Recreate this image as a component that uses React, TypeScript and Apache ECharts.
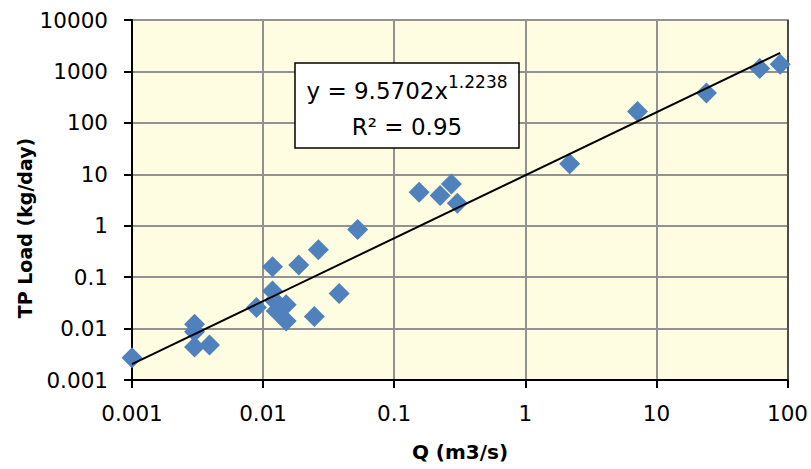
import React, { useEffect, useRef } from "react";
import * as echarts from "echarts";

const qValues = [0.001, 0.003, 0.003, 0.003, 0.0039, 0.0089, 0.0118, 0.0118, 0.0122, 0.0126, 0.015, 0.015, 0.0187, 0.0246, 0.0264, 0.038, 0.0526, 0.155, 0.224, 0.273, 0.303, 2.18, 7.18, 24.1, 61.4, 88];
const loadValues = [0.0027, 0.0122, 0.0087, 0.0044, 0.0048, 0.0256, 0.16, 0.054, 0.035, 0.022, 0.029, 0.0141, 0.172, 0.0172, 0.342, 0.048, 0.84, 4.48, 3.86, 6.5, 2.73, 16.0, 167, 381, 1138, 1380];
const xTickLabels = ["0.001", "0.01", "0.1", "1", "10", "100"];
const yTickLabels = ["0.001", "0.01", "0.1", "1", "10", "100", "1000", "10000"];
const fitCoef = 9.5702;
const fitExp = 1.2238;
const fitR2 = "0.95";
const trendRange = [0.001, 88];

const FONT = "DejaVu Sans";

export default function App() {
  const ref = useRef<HTMLDivElement>(null);
  useEffect(() => {
    document.body.style.margin = "0";
    const chart = echarts.init(ref.current!, undefined, { renderer: "svg" });
    const pts = qValues.map((q, i) => [q, loadValues[i]]);
    const trend = trendRange.map((q) => [q, fitCoef * Math.pow(q, fitExp)]);
    const lab = (arr: string[], min: number) => (v: number) => {
      const k = Math.round(Math.log10(v)) - Math.round(Math.log10(min));
      return arr[k] ?? "";
    };
    chart.setOption({
      animation: false,
      grid: {
        left: 132,
        right: 22,
        top: 20,
        bottom: 89,
        show: true,
        backgroundColor: "#FEFCE1",
        borderWidth: 0,
      },
      xAxis: {
        type: "log",
        logBase: 10,
        min: 0.001,
        max: 100,
        axisLine: { show: true, lineStyle: { color: "#000", width: 2 } },
        axisTick: { show: true, length: 8, lineStyle: { color: "#000", width: 2 } },
        splitLine: { show: true, lineStyle: { color: "#929292", width: 2 } },
        axisLabel: {
          formatter: lab(xTickLabels, 0.001),
          fontFamily: FONT,
          fontSize: 21.5,
          color: "#000",
          margin: 22,
        },
      },
      yAxis: [
        {
          type: "log",
          logBase: 10,
          min: 0.001,
          max: 10000,
          axisLine: { show: true, onZero: false, lineStyle: { color: "#000", width: 2 } },
          axisTick: { show: true, length: 8, lineStyle: { color: "#000", width: 2 } },
          splitLine: { show: true, lineStyle: { color: "#929292", width: 2 } },
          axisLabel: {
            formatter: lab(yTickLabels, 0.001),
            fontFamily: FONT,
            fontSize: 21.5,
            color: "#000",
            margin: 24,
          },
        },
        {
          type: "log",
          logBase: 10,
          min: 0.001,
          max: 10000,
          position: "right",
          axisLine: { show: true, lineStyle: { color: "#333", width: 1.5 } },
          axisTick: { show: false },
          axisLabel: { show: false },
          splitLine: { show: false },
        },
      ],
      series: [
        {
          type: "scatter",
          data: pts,
          symbol: "diamond",
          symbolSize: 21,
          clip: false,
          itemStyle: { color: "#4F81BD", opacity: 1 },
          z: 3,
        },
        {
          type: "line",
          data: trend,
          showSymbol: false,
          symbol: "none",
          lineStyle: { color: "#000", width: 2 },
          z: 4,
        },
      ],
      graphic: [
        {
          type: "text",
          x: 25,
          y: 228,
          rotation: Math.PI / 2,
          style: {
            text: "TP Load (kg/day)",
            fontFamily: FONT,
            fontWeight: "bold",
            fontSize: 19,
            fill: "#000",
            align: "center",
            verticalAlign: "middle",
          },
        },
        {
          type: "text",
          x: 460,
          y: 452,
          style: {
            text: "Q (m3/s)",
            fontFamily: FONT,
            fontWeight: "bold",
            fontSize: 20,
            fill: "#000",
            align: "center",
            verticalAlign: "middle",
          },
        },
        {
          type: "rect",
          z: 100,
          shape: { x: 295, y: 63, width: 224, height: 85 },
          style: { fill: "#fff", stroke: "#000", lineWidth: 1.5 },
        },
        {
          type: "text",
          z: 101,
          x: 407,
          y: 88,
          style: {
            text: "{m|y = " + fitCoef.toFixed(4) + "x}{s|" + fitExp.toFixed(4) + "}",
            rich: {
              m: { fontFamily: FONT, fontSize: 23, fill: "#000", verticalAlign: "bottom" },
              s: { fontFamily: FONT, fontSize: 17, fill: "#000", verticalAlign: "top", padding: [0, 0, 12, 0] },
            },
            align: "center",
            verticalAlign: "middle",
          },
        },
        {
          type: "text",
          z: 101,
          x: 407,
          y: 127,
          style: {
            text: "R² = " + fitR2,
            fontFamily: FONT,
            fontSize: 23,
            fill: "#000",
            align: "center",
            verticalAlign: "middle",
          },
        },
      ],
    });
    return () => chart.dispose();
  }, []);
  return <div ref={ref} style={{ width: 811, height: 469 }} />;
}
